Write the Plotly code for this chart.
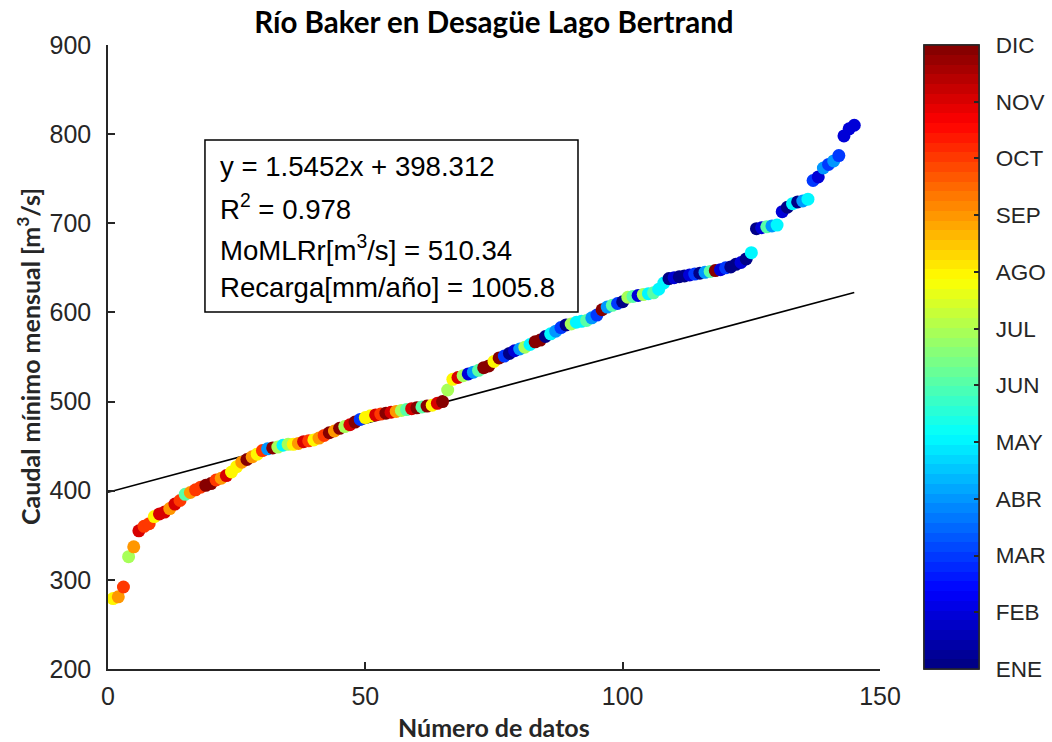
import plotly.graph_objects as go

# ---------------- data ----------------
caudal = [
    279, 281, 292, 326, 337, 355, 360, 363, 371, 374,
    376, 380, 385, 389, 396, 398, 401, 404, 406, 408,
    412, 414, 417, 421, 427, 432, 435, 438, 441, 445,
    447, 448, 449, 451, 452, 452, 453, 455, 456, 457,
    459, 462, 465, 467, 470, 472, 474, 477, 480, 482,
    484, 485, 486, 487, 488, 489, 490, 491, 492, 493,
    494, 495, 496, 498, 500,
    513, 525, 527, 529, 531, 533, 535, 538, 540, 545,
    549, 551, 554, 557, 559, 561, 564, 567, 569, 573,
    576, 579, 583, 586, 587, 589, 590, 591, 594, 597,
    603, 606, 608, 610, 612, 617,
    618, 619, 620, 621, 622, 626, 633, 638, 639, 640,
    641, 642, 643, 644, 645, 646, 647, 648, 650, 651,
    654, 656, 660, 667,
    694, 695, 696, 697, 698, 713, 718, 722, 724, 725,
    727, 748, 752, 762, 766, 770, 776, 798, 806, 810,
]
mes = [
    8, 9, 10, 7, 9, 11, 10, 10, 8, 11,
    11, 9, 11, 10, 6, 9, 10, 10, 12, 12,
    10, 9, 11, 8, 8, 9, 12, 9, 8, 10,
    4, 12, 7, 5, 7, 8, 9, 11, 10, 8,
    9, 10, 12, 9, 12, 7, 11, 12, 3, 8,
    8, 11, 10, 12, 11, 9, 7, 6, 11, 12,
    6, 12, 8, 11, 12,
    7, 8, 11, 7, 2, 4, 6, 12, 12, 8,
    12, 3, 1, 2, 4, 7, 5, 12, 12, 1,
    5, 4, 3, 1, 7, 5, 5, 6, 4, 3,
    12, 4, 6, 3, 1, 7,
    6, 2, 7, 5, 6, 5, 5, 1, 2, 1,
    1, 2, 3, 1, 4, 6, 12, 2, 3, 1,
    1, 2, 1, 5,
    1, 2, 6, 4, 5, 2, 1, 5, 1, 4,
    5, 3, 2, 4, 3, 4, 3, 2, 2, 2,
]
n_datos = list(range(1, len(caudal) + 1))
meses = ["ENE", "FEB", "MAR", "ABR", "MAY", "JUN",
         "JUL", "AGO", "SEP", "OCT", "NOV", "DIC"]
mes_vals = list(range(1, 13))
pendiente = 1.5452
intercepto = 398.312
r2 = 0.978
momlrr = 510.34
recarga = 1005.8
x_ticks = [0, 50, 100, 150]
y_ticks = [200, 300, 400, 500, 600, 700, 800, 900]

# ---------------- MATLAB-like jet(64) colorscale ----------------
def jet(t):
    def c(v):
        return max(0.0, min(1.0, v))
    r = c(min(4 * t - 1.5, -4 * t + 4.5))
    g = c(min(4 * t - 0.5, -4 * t + 3.5))
    b = c(min(4 * t + 0.5, -4 * t + 2.5))
    return "rgb(%d,%d,%d)" % (round(r * 255), round(g * 255), round(b * 255))

nb = 64
jet_scale = []
for i in range(nb):
    col = jet((i + 0.5) / nb)
    jet_scale.append([i / nb, col])
    jet_scale.append([(i + 1) / nb, col])

AX = "#262626"
SANS = "Liberation Sans, Arial, sans-serif"
TICKFONT = dict(family=SANS, size=25, color=AX)
CBFONT = dict(family=SANS, size=22.5, color=AX)
BOLD = "Lato, Carlito, Calibri, sans-serif"

CB_COMMON = dict(
    tickvals=mes_vals, ticktext=meses,
    outlinecolor=AX, outlinewidth=1.5,
    thickness=55, thicknessmode="pixels",
    len=1.0, lenmode="fraction", y=0.5, yanchor="middle",
    xref="container", x=924 / 1052, xanchor="left", xpad=0, ypad=0,
    tickfont=CBFONT,
)

fig = go.Figure()

x_lin = [0, len(caudal)]
y_lin = [intercepto + pendiente * v for v in x_lin]

fig.add_trace(go.Scatter(
    x=x_lin, y=y_lin, mode="lines",
    line=dict(color="black", width=1.6), showlegend=False, hoverinfo="skip"))

# colorbar carrying the month labels (transparent outside ticks give the gap)
fig.add_trace(go.Scatter(
    x=[None], y=[None], mode="markers", showlegend=False, hoverinfo="skip",
    marker=dict(size=1, color=[1], cmin=1, cmax=12, colorscale=jet_scale,
                showscale=True,
                colorbar=dict(ticks="outside", ticklen=12,
                              tickcolor="rgba(0,0,0,0)", **CB_COMMON)),
))

fig.add_trace(go.Scatter(
    x=n_datos, y=caudal, mode="markers", showlegend=False,
    marker=dict(
        size=13, color=mes, cmin=1, cmax=12, colorscale=jet_scale,
        line=dict(width=0), showscale=True,
        colorbar=dict(ticks="inside", ticklen=5, tickwidth=1.5, tickcolor=AX,
                      showticklabels=False, **CB_COMMON),
    ),
))

fig.update_layout(
    width=1052, height=742,
    margin=dict(l=108, r=172, t=45, b=73),
    paper_bgcolor="white", plot_bgcolor="white",
    title=dict(text="<b>Río Baker en Desagüe Lago Bertrand</b>",
               x=0.4695, xanchor="center", y=1 - 23 / 742, yanchor="middle",
               font=dict(family=BOLD, size=29.5, color="black")),
    xaxis=dict(range=[0, 150], tickvals=x_ticks, showgrid=False, zeroline=False,
               showline=True, linecolor=AX, linewidth=1.5, mirror=False,
               ticks="inside", ticklen=7, tickwidth=1.5, tickcolor=AX,
               tickfont=TICKFONT, ticklabelstandoff=4),
    yaxis=dict(range=[200, 900], tickvals=y_ticks, showgrid=False, zeroline=False,
               showline=True, linecolor=AX, linewidth=1.5, mirror=False,
               ticks="inside", ticklen=7, tickwidth=1.5, tickcolor=AX,
               tickfont=TICKFONT, ticklabelstandoff=10),
)

# axis titles
fig.add_annotation(text="<b>Número de datos</b>", xref="paper", yref="paper",
                   x=0.5, y=-0.093, xanchor="center", yanchor="middle",
                   showarrow=False, font=dict(family=BOLD, size=25, color=AX))
fig.add_annotation(text="<b>Caudal mínimo mensual [m<sup>3</sup>/s]</b>",
                   xref="paper", yref="paper", textangle=-90,
                   x=-0.1036, y=0.5, xanchor="center", yanchor="middle",
                   showarrow=False, font=dict(family=BOLD, size=25, color=AX))

# statistics box
fig.add_shape(type="rect", xref="paper", yref="paper",
              x0=0.1256, x1=0.6088, y0=0.572, y1=0.8478,
              line=dict(color="black", width=1.5), fillcolor="white", layer="above")
lines = [
    "y = %.4fx + %.3f" % (pendiente, intercepto),
    "R<sup>2</sup> = %.3f" % r2,
    "MoMLRr[m<sup>3</sup>/s] = %.2f" % momlrr,
    "Recarga[mm/año] = %.1f" % recarga,
]
ys = [0.8045, 0.7388, 0.6731, 0.6106]
for t, yy in zip(lines, ys):
    fig.add_annotation(text=t, xref="paper", yref="paper", x=0.1425, y=yy,
                       xanchor="left", yanchor="middle", showarrow=False,
                       font=dict(family=SANS, size=27.6, color="black"))

fig.write_html(
    "out.html",
    config={"displayModeBar": False},
    post_script="document.body.style.margin='0px';"
                "document.documentElement.style.overflow='hidden';"
                "document.body.style.overflow='hidden';",
)
